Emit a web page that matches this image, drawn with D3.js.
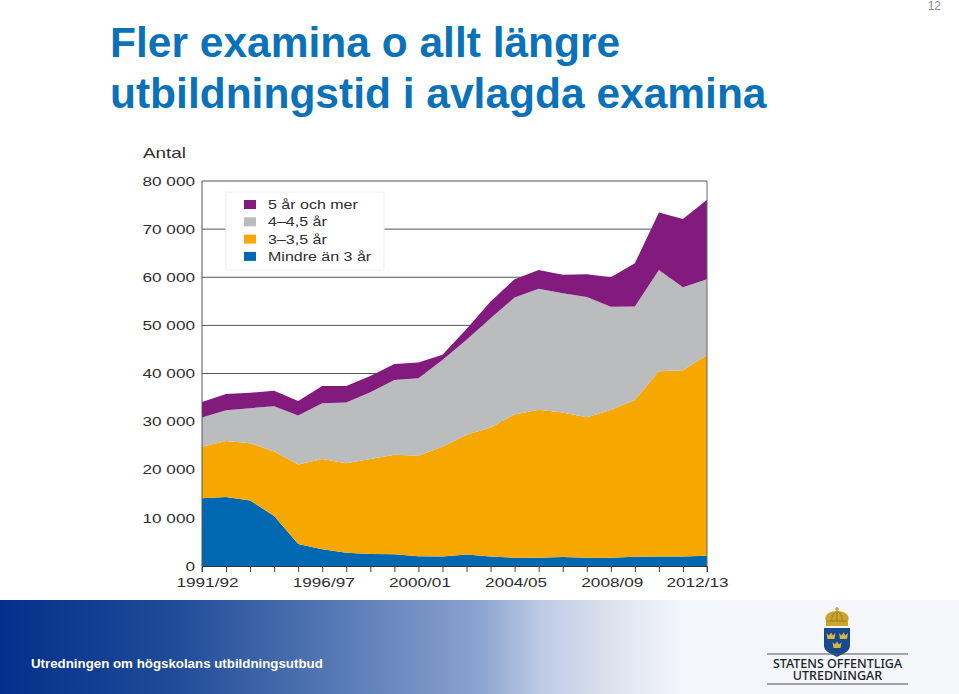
<!DOCTYPE html>
<meta charset="utf-8">
<title>Fler examina o allt längre utbildningstid i avlagda examina</title>
<style>
html, body { margin: 0; padding: 0; background: #fff; overflow: hidden; }
svg { display: block; font-family: "Liberation Sans", Arial, sans-serif; }
</style>
<svg width="959" height="694"></svg>
<script src="https://d3js.org/d3.v7.min.js"></script>
<script>
var years = ["1991/92","1992/93","1993/94","1994/95","1995/96","1996/97","1997/98","1998/99","1999/00","2000/01","2001/02",
	"2002/03","2003/04","2004/05","2005/06","2006/07","2007/08","2008/09","2009/10","2010/11","2011/12","2012/13"]
var under3 = [14100,14350,13600,10400,4570,3470,2770,2500,2450,2050,1950,2400,1950,1720,1720,1850,1720,1720,1900,2000,2000,2150]
var three = [10700,11650,11900,13400,16530,18780,18580,19750,20650,20850,22850,24850,26850,29780,30730,30050,29180,30680,32600,38450,38700,41700]
var four = [6050,6350,7300,9400,10150,11550,12650,13850,15550,16100,18000,19750,22700,24300,25150,24800,25000,21450,19400,21050,17200,15750]
var five = [3250,3400,3200,3200,3050,3600,3400,3400,3350,3300,1100,2250,3450,3800,3900,3800,4700,6150,9000,11950,14200,16500]
var labelled = ["1991/92","1996/97","2000/01","2004/05","2008/09","2012/13"]
var yTicks = [0,10000,20000,30000,40000,50000,60000,70000,80000]
var legendNames = ["5 år och mer","4–4,5 år","3–3,5 år","Mindre än 3 år"]
var keys = ["under3","three","four","five"]
var colors = {under3: "#0068b1", three: "#f7a800", four: "#bbbcbe", five: "#831a7d"}
var textColor = "#2e2e2e"

var svg = d3.select("svg")

// footer band
var grad = svg.append("defs").append("linearGradient").attr("id", "band")
grad.selectAll("stop")
	.data([[0,"#03308a"],[0.18,"#1f4b98"],[0.355,"#587ab6"],[0.5,"#8ba3cf"],[0.563,"#bccbe3"],[0.646,"#dfe5f0"],[0.71,"#f3f6fb"],[1,"#f5f7fb"]])
	.enter().append("stop")
	.attr("offset", function(d) { return d[0] })
	.attr("stop-color", function(d) { return d[1] })
svg.append("rect").attr("x", 0).attr("y", 600).attr("width", 959).attr("height", 94).attr("fill", "url(#band)")

svg.append("text").attr("x", 110).attr("y", 57).attr("font-size", 42.5).attr("fill", "#0b72b9")
	.attr("font-weight", "bold").text("Fler examina o allt längre")
svg.append("text").attr("x", 110).attr("y", 108).attr("font-size", 42.5).attr("fill", "#0b72b9")
	.attr("font-weight", "bold").text("utbildningstid i avlagda examina")
svg.append("text").attr("x", 941).attr("y", 10).attr("font-size", 12).attr("fill", "#8a8a8a")
	.attr("text-anchor", "end").text("12")
svg.append("text").attr("x", 31).attr("y", 668).attr("font-size", 13.3).attr("fill", "#fff")
	.attr("font-weight", "bold").text("Utredningen om högskolans utbildningsutbud")

var x = d3.scalePoint().domain(years).range([202, 707])
var y = d3.scaleLinear().domain([0, 80000]).range([566, 181])

var table = years.map(function(d, i) {
	return {year: d, under3: under3[i], three: three[i], four: four[i], five: five[i]}
})
var stack = d3.stack().keys(keys)(table)

// gridlines sit under the areas
svg.append("g").selectAll("line")
	.data(yTicks.slice(1))
	.enter().append("line")
	.attr("x1", x.range()[0]).attr("x2", x.range()[1])
	.attr("y1", function(d) { return y(d) }).attr("y2", function(d) { return y(d) })
	.attr("stroke", "#555").attr("stroke-width", 1)

var area = d3.area()
	.x(function(d) { return x(d.data.year) })
	.y0(function(d) { return y(d[0]) })
	.y1(function(d) { return y(d[1]) })

svg.append("g").selectAll("path")
	.data(stack)
	.enter().append("path")
	.attr("d", area)
	.attr("fill", function(d) { return colors[d.key] })

// frame
svg.append("line").attr("x1", 202).attr("x2", 202).attr("y1", 181).attr("y2", 572).attr("stroke", "#555")
svg.append("line").attr("x1", 707).attr("x2", 707).attr("y1", 181).attr("y2", 572).attr("stroke", "#666")

var fmt = function(d) { return d3.format(",")(d).replace(",", " ") }

// the chart was pasted in stretched, so its text runs wider than the font
function wideText(sel, size, stretch) {
	sel.attr("font-size", size).attr("fill", textColor).attr("font-family", "Liberation Sans")
	sel.each(function() {
		this.setAttribute("textLength", this.getComputedTextLength() * stretch)
		this.setAttribute("lengthAdjust", "spacingAndGlyphs")
	})
	return sel
}

var yAxis = svg.append("g").attr("transform", "translate(195,0)")
	.call(d3.axisLeft(y).tickValues(yTicks).tickSize(0).tickPadding(0).tickFormat(fmt))
yAxis.select(".domain").remove()
wideText(yAxis.selectAll("text"), 13, 1.32)

var xAxis = svg.append("g").attr("transform", "translate(0,566)")
	.call(d3.axisBottom(x).tickSize(6).tickFormat(function(d) { return labelled.indexOf(d) >= 0 ? d : "" }))
xAxis.select(".domain").attr("stroke", "#333")
xAxis.selectAll("line").attr("stroke", "#444")
wideText(xAxis.selectAll("text").attr("y", 12)
	.attr("dx", function(d) { return d == "1991/92" ? 5 : d == "2012/13" ? -10 : 1 }), 13, 1.32)

wideText(svg.append("text").attr("x", 143).attr("y", 158).text("Antal"), 14.5, 1.3)

// legend
svg.append("rect").attr("x", 226).attr("y", 192).attr("width", 158).attr("height", 78)
	.attr("fill", "#fff").attr("stroke", "#eee")
var legend = svg.append("g").selectAll("g")
	.data(legendNames)
	.enter().append("g")
	.attr("transform", function(d, i) { return "translate(244," + (200 + i * 17.3) + ")" })
legend.append("rect").attr("width", 12).attr("height", 9)
	.attr("fill", function(d, i) { return colors[keys[3 - i]] })
wideText(legend.append("text").attr("x", 24).attr("y", 9).text(function(d) { return d }), 12.5, 1.28)

// logo
var gold = "#c9a52e"
var logo = svg.append("g")
logo.append("path").attr("fill", "#174a8c")
	.attr("d", "M824 628 H850 V646 C850 651 843 654 837 657 C831 654 824 651 824 646 Z")
logo.append("path").attr("fill", gold)
	.attr("d", "M826 626 V621 C823 615 830 611 837 611 C844 611 851 615 848 621 V626 Z")
logo.append("path").attr("fill", "none").attr("stroke", "#8a6f1e").attr("stroke-width", 0.7)
	.attr("d", "M827 621 H847 M832 621 C831 616 834 613 837 611 C840 613 843 616 842 621 M837 611 V621")
logo.append("path").attr("fill", "none").attr("stroke", gold).attr("stroke-width", 1.5).attr("d", "M837 607 V612 M835 609 H839")
logo.selectAll("path.small").data([[831,637],[843.5,637],[837,646]]).enter().append("path")
	.attr("fill", "#d9b640")
	.attr("transform", function(d) { return "translate(" + d[0] + "," + d[1] + ")" })
	.attr("d", "M-4.5 -4 L-2 -1.5 L0 -4.5 L2 -1.5 L4.5 -4 L3.5 2 L-3.5 2 Z")
logo.append("line").attr("x1", 767).attr("x2", 908).attr("y1", 654).attr("y2", 654).attr("stroke", "#555")
logo.append("line").attr("x1", 767).attr("x2", 908).attr("y1", 684).attr("y2", 684).attr("stroke", "#888").attr("stroke-width", 1.5)
var wordmark = logo.append("text").attr("text-anchor", "middle").attr("font-size", 12.5)
	.attr("font-family", "Noto Sans").attr("font-weight", 500).attr("fill", "#222")
wordmark.append("tspan").attr("x", 837.5).attr("y", 667.5).text("STATENS OFFENTLIGA")
wordmark.append("tspan").attr("x", 837.5).attr("y", 680).text("UTREDNINGAR")
</script>
